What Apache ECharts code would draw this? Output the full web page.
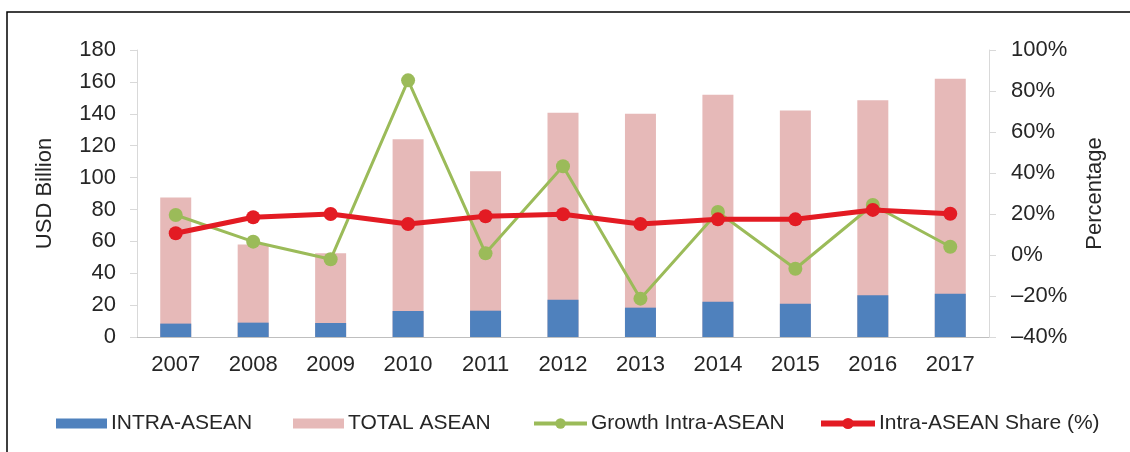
<!DOCTYPE html>
<html>
<head>
<meta charset="utf-8">
<script src="https://cdn.jsdelivr.net/npm/echarts@6/dist/echarts.min.js"></script>
<style>
  html, body { margin: 0; padding: 0; background: #fff; }
  #chart { width: 1130px; height: 452px; }
</style>
</head>
<body>
<div id="chart"></div>
<script>
var years = ['2007', '2008', '2009', '2010', '2011', '2012', '2013', '2014', '2015', '2016', '2017'];
var intraAsean = [8.4, 9, 8.8, 16.3, 16.5, 23.4, 18.4, 22.1, 20.9, 26.2, 27.2];
var totalAsean = [87.5, 58, 52.5, 124, 104, 140.7, 140, 152, 142, 148.5, 162];
var growthIntra = [19.5, 6.5, -2.1, 85.2, 0.8, 43.3, -21.3, 21, -6.7, 24.4, 4];
var intraShare = [10.6, 18.4, 20, 15.1, 18.9, 19.9, 15.1, 17.4, 17.4, 22, 20.1];

var font = 'Liberation Sans, Arial, sans-serif';

// one legend per item so each sits where the original puts it
function legendItem(name, left, w, h, extra) {
    var l = {
        data: [name],
        left: left,
        top: 408,
        itemWidth: w,
        itemHeight: h,
        itemGap: 0,
        selectedMode: false,
        textStyle: {fontFamily: font, fontSize: 21, color: '#262626', padding: [0, 0, 0, -1]}
    };
    for (var k in extra) l[k] = extra[k];
    return l;
}

var chart = echarts.init(document.getElementById('chart'));

var option = {
    animation: false,
    backgroundColor: '#fff',
    graphic: [{
        type: 'rect',
        shape: {x: 7, y: 12, width: 1200, height: 500},
        style: {fill: 'none', stroke: '#000', lineWidth: 1.5},
        silent: true
    }],
    legend: [
        legendItem('INTRA-ASEAN', 51, 51, 10, {icon: 'rect'}),
        legendItem('TOTAL ASEAN', 288, 51, 10, {icon: 'rect'}),
        legendItem('Growth Intra-ASEAN', 527, 53, 13, {lineStyle: {width: 4}}),
        legendItem('Intra-ASEAN Share (%)', 813, 54, 14, {lineStyle: {width: 6}})
    ],
    grid: {left: 137, right: 141, top: 50, bottom: 115},
    xAxis: {
        type: 'category',
        data: years,
        axisLine: {lineStyle: {color: '#bfbfbf', width: 1}},
        axisTick: {show: false},
        axisLabel: {fontFamily: font, fontSize: 22, color: '#262626', margin: 17}
    },
    yAxis: [
        {
            type: 'value',
            min: 0, max: 180, interval: 20,
            name: 'USD Billion',
            nameLocation: 'middle',
            nameGap: 81,
            nameTextStyle: {fontFamily: font, fontSize: 22, color: '#262626'},
            axisLine: {show: true, lineStyle: {color: '#d9d9d9'}},
            axisTick: {show: true, length: 7, lineStyle: {color: '#d9d9d9'}},
            splitLine: {show: false},
            axisLabel: {fontFamily: font, fontSize: 22, color: '#262626', margin: 21}
        },
        {
            type: 'value',
            min: -40, max: 100, interval: 20,
            name: 'Percentage',
            nameLocation: 'middle',
            nameGap: 95,
            nameRotate: 90,
            nameTextStyle: {fontFamily: font, fontSize: 22, color: '#262626'},
            axisLine: {show: true, lineStyle: {color: '#d9d9d9'}},
            axisTick: {show: true, length: 7, lineStyle: {color: '#d9d9d9'}},
            splitLine: {show: false},
            axisLabel: {
                fontFamily: font, fontSize: 22, color: '#262626', margin: 22,
                formatter: function (v) {
                    return (v < 0 ? '\u2013' + (-v) : v) + '%';
                }
            }
        }
    ],
    series: [
        {
            name: 'TOTAL ASEAN',
            type: 'bar',
            barWidth: 31,
            barGap: '-100%',
            itemStyle: {color: '#e6b9b8'},
            data: totalAsean
        },
        {
            name: 'INTRA-ASEAN',
            type: 'bar',
            barWidth: 31,
            barGap: '-100%',
            itemStyle: {color: '#4f81bd'},
            data: intraAsean
        },
        {
            name: 'Growth Intra-ASEAN',
            type: 'line',
            yAxisIndex: 1,
            symbol: 'circle',
            symbolSize: 14,
            lineStyle: {color: '#9bbb59', width: 3},
            itemStyle: {color: '#9bbb59'},
            z: 3,
            data: growthIntra
        },
        {
            name: 'Intra-ASEAN Share (%)',
            type: 'line',
            yAxisIndex: 1,
            symbol: 'circle',
            symbolSize: 14,
            lineStyle: {color: '#e31b23', width: 5},
            itemStyle: {color: '#e31b23'},
            z: 4,
            data: intraShare
        }
    ]
};

chart.setOption(option);
</script>
</body>
</html>
